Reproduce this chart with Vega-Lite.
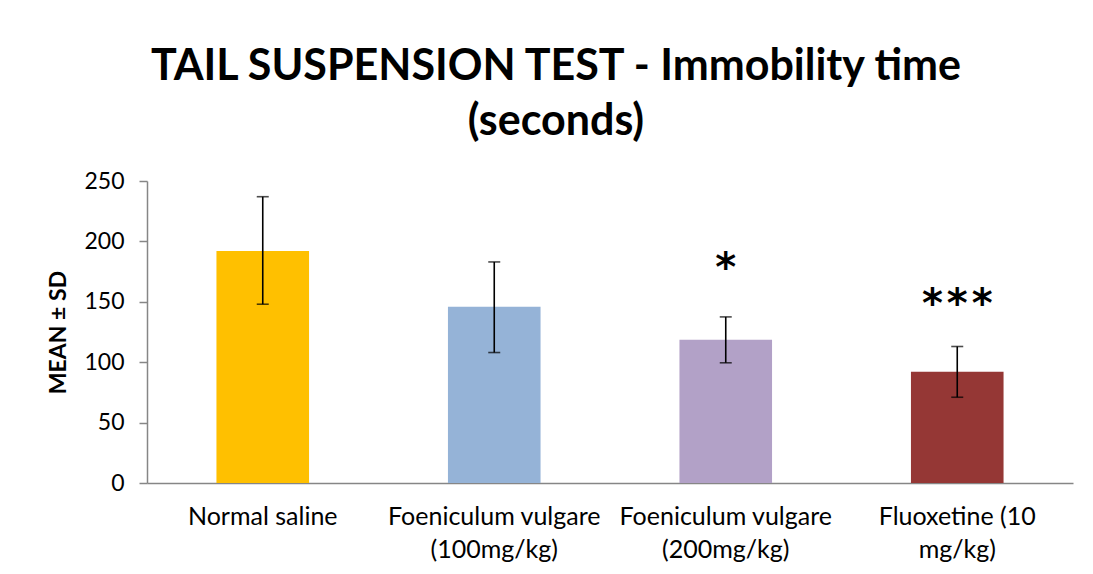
{
  "$schema": "https://vega.github.io/schema/vega-lite/v6.json",
  "autosize": {"type": "none"},
  "width": 926,
  "height": 302,
  "padding": {"left": 147, "top": 181, "right": 20, "bottom": 91},
  "background": "white",
  "config": {
    "view": {"stroke": null},
    "font": "Lato"
  },
  "title": {
    "text": ["TAIL SUSPENSION TEST - Immobility time", "(seconds)"],
    "font": "Lato",
    "fontSize": 43,
    "fontWeight": "bold",
    "color": "#000000",
    "anchor": "middle",
    "frame": "group",
    "dx": -54,
    "offset": 26,
    "lineHeight": 55
  },
  "data": {
    "values": [
      {"group": "Normal saline", "mean": 192, "lo": 148, "hi": 237, "sig": "", "sigY": 0},
      {"group": "Foeniculum vulgare|(100mg/kg)", "mean": 146, "lo": 108, "hi": 183, "sig": "", "sigY": 0},
      {"group": "Foeniculum vulgare|(200mg/kg)", "mean": 118.5, "lo": 99.5, "hi": 137.5, "sig": "*", "sigY": 177},
      {"group": "Fluoxetine (10|mg/kg)", "mean": 92, "lo": 71, "hi": 113, "sig": "*\u200a*\u200a*", "sigY": 147.5}
    ]
  },
  "encoding": {
    "x": {
      "field": "group",
      "type": "nominal",
      "sort": null,
      "scale": {"paddingInner": 0.6, "paddingOuter": 0.3},
      "axis": {
        "title": null,
        "labelAngle": 0,
        "labelExpr": "split(datum.label, '|')",
        "labelFont": "Lato",
        "labelFontSize": 25,
        "labelLimit": 0,
        "labelColor": "#000000",
        "labelLineHeight": 33,
        "labelPadding": 21,
        "ticks": false,
        "domainColor": "#868686",
        "domainWidth": 1.5,
        "labelBaseline": "top"
      }
    }
  },
  "layer": [
    {
      "mark": {"type": "bar"},
      "encoding": {
        "y": {
          "field": "mean",
          "type": "quantitative",
          "scale": {"domain": [0, 250], "nice": false},
          "axis": {
            "title": "MEAN ± SD",
            "titleFont": "Lato",
            "titleFontSize": 23,
            "titleFontWeight": "bold",
            "titleColor": "#000000",
            "titlePadding": 13,
            "values": [0, 50, 100, 150, 200, 250],
            "grid": false,
            "labelFont": "Lato",
            "labelFontSize": 23,
            "labelColor": "#000000",
            "labelPadding": 15,
            "tickSize": 8,
            "tickColor": "#868686",
            "tickWidth": 1.5,
            "domainColor": "#868686",
            "domainWidth": 1.5
          }
        },
        "color": {
          "field": "group",
          "type": "nominal",
          "sort": null,
          "scale": {"range": ["#FFC000", "#95B3D7", "#B2A1C7", "#953735"]},
          "legend": null
        }
      }
    },
    {
      "mark": {"type": "rule", "color": "#000000", "strokeWidth": 1.6},
      "encoding": {
        "y": {"field": "lo", "type": "quantitative"},
        "y2": {"field": "hi"}
      }
    },
    {
      "mark": {"type": "tick", "color": "#000000", "thickness": 1.6, "size": 12},
      "encoding": {"y": {"field": "lo", "type": "quantitative"}}
    },
    {
      "mark": {"type": "tick", "color": "#000000", "thickness": 1.6, "size": 12},
      "encoding": {"y": {"field": "hi", "type": "quantitative"}}
    },
    {
      "transform": [{"filter": "datum.sig != ''"}],
      "mark": {"type": "text", "font": "DejaVu Sans", "fontSize": 40, "fontWeight": "bold", "baseline": "middle", "color": "#000000"},
      "encoding": {
        "y": {"field": "sigY", "type": "quantitative"},
        "text": {"field": "sig"}
      }
    }
  ]
}
